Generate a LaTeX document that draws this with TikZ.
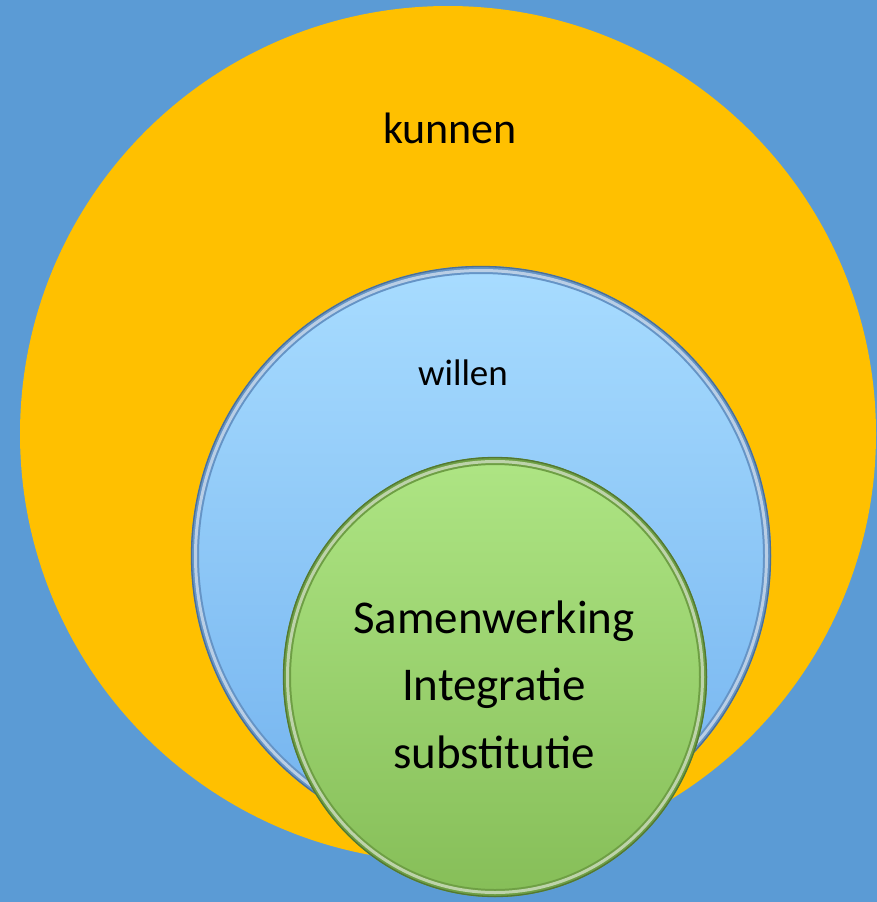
\documentclass[tikz,border=0pt]{standalone}
\usepackage{fontspec}
\setmainfont{Carlito}
\usepackage{tikz}
\usetikzlibrary{positioning,calc}
\definecolor{backblue}{HTML}{5B9BD5}
\definecolor{kunnenyel}{HTML}{FFC000}
\definecolor{willtop}{HTML}{A8DCFF}
\definecolor{willbot}{HTML}{72B2EE}
\definecolor{willrim}{HTML}{6594C6}
\definecolor{greentop}{HTML}{AEE584}
\definecolor{greenbot}{HTML}{86BE58}
\definecolor{greenrim}{HTML}{6E9F44}

\begin{document}
\begin{tikzpicture}[
x=1pt,y=1pt,
lbl/.style={inner sep=0pt,anchor=base,text=black},
rim/.style={line width=8pt},
gloss/.style={line width=3pt,draw=white,draw opacity=0.55}
]
\useasboundingbox (0,0) rectangle (877,-902);
\fill[backblue] (0,0) rectangle (877,-902);
% outer circle
\fill[kunnenyel] (448,-434) circle[radius=428];
% middle circle with bevel
\shade[top color=willtop,bottom color=willbot] (481,-556) circle[radius=290];
\draw[rim,draw=willrim] (481,-556) circle[radius=286];
\draw[gloss] (481,-556) circle[radius=285.5];
\draw[line width=1.3pt,draw=willrim!75!black] (481,-556) circle[radius=289.5];
% inner circle with bevel
\shade[top color=greentop,bottom color=greenbot] (495,-677) ellipse[x radius=212,y radius=220];
\draw[rim,draw=greenrim] (495,-677) ellipse[x radius=208,y radius=216];
\draw[gloss] (495,-677) ellipse[x radius=207.5,y radius=215.5];
\draw[line width=1.3pt,draw=greenrim!75!black] (495,-677) ellipse[x radius=211.5,y radius=219.5];
% labels
\node[lbl,font=\fontsize{44}{52}\selectfont] (kunnen) at (450,-143) {kunnen};
\node[lbl,font=\fontsize{37}{44}\selectfont] (willen) at (463,-385) {willen};
\node[lbl,font=\fontsize{47}{56}\selectfont] (samen) at (494,-633) {Samenwerking};
\node[lbl,font=\fontsize{47}{56}\selectfont] (integr) at ([yshift=-67.5pt]samen.base) {Integratie};
\node[lbl,font=\fontsize{47}{56}\selectfont] (subst) at ([yshift=-67.5pt]integr.base) {substitutie};
\end{tikzpicture}
\end{document}
